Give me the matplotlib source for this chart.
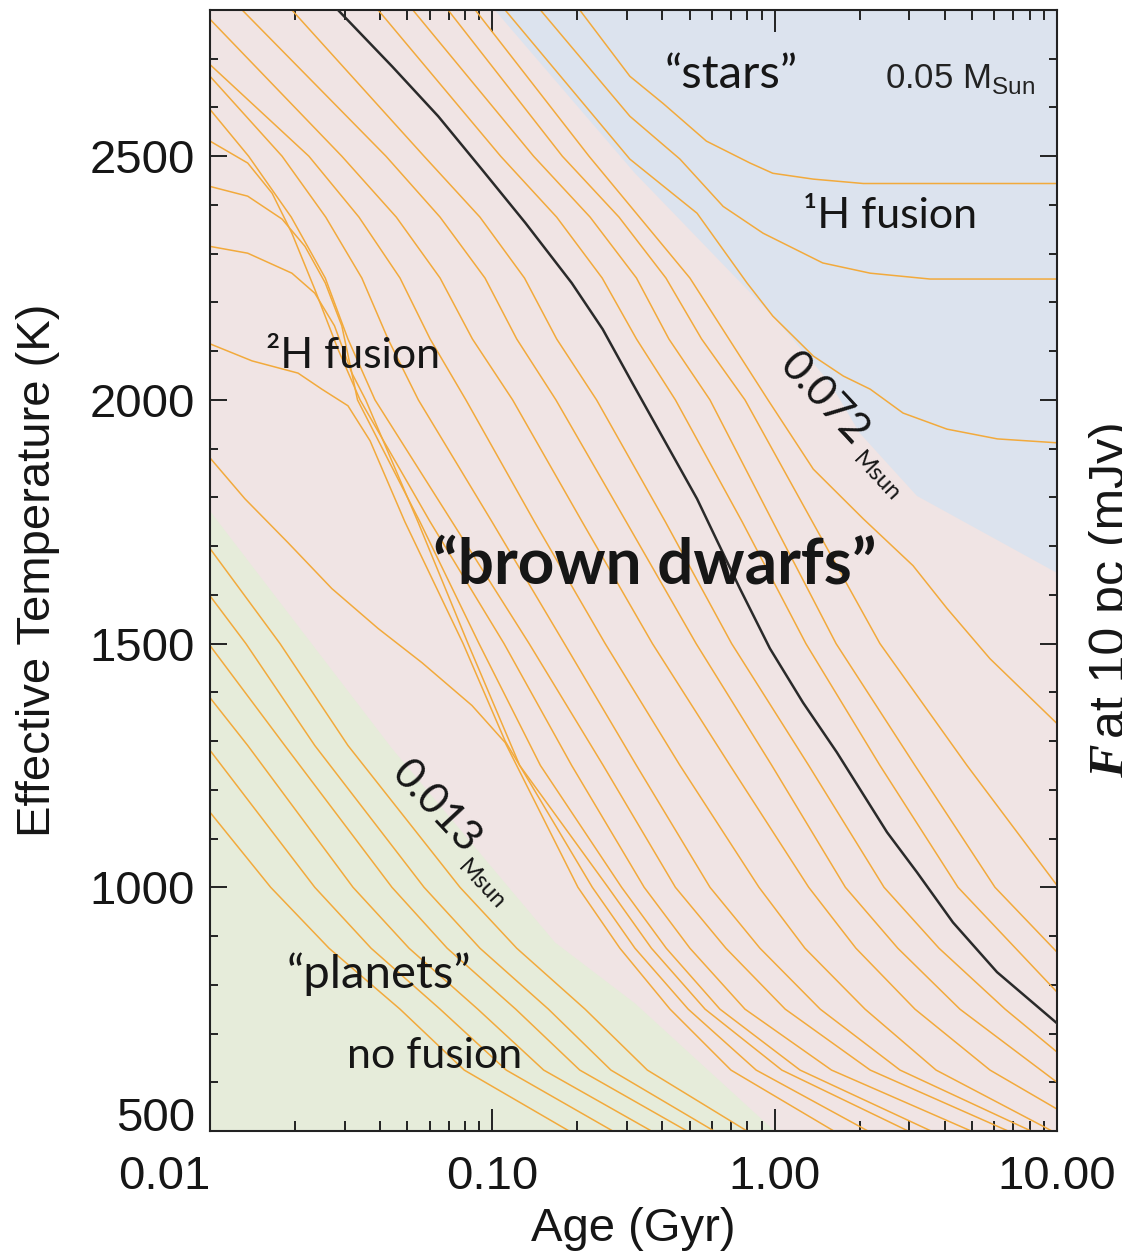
import matplotlib
matplotlib.use("Agg")
import matplotlib.pyplot as plt
import matplotlib.ticker as ticker

plt.rcParams['font.family'] = ['Liberation Sans', 'DejaVu Sans']
plt.rcParams['mathtext.fontset'] = 'custom'
plt.rcParams['mathtext.rm'] = 'Liberation Sans'

# ---- evolutionary tracks: age (Gyr) vs effective temperature (K) ----
# hydrogen-burning stars
age_s1 = [0.204, 0.307, 0.403, 0.573, 0.818, 0.985, 1.37, 2.06, 10.0]
teff_s1 = [2800, 2664, 2608, 2531, 2486, 2465, 2453, 2444, 2444]
age_s2 = [0.148, 0.307, 0.462, 0.657, 0.910, 1.48, 2.18, 3.55, 10.0]
teff_s2 = [2800, 2582, 2494, 2397, 2342, 2281, 2260, 2248, 2248]
age_s3 = [0.111, 0.307, 0.531, 0.798, 0.985, 1.37, 1.75, 2.18, 2.85, 4.08, 6.15, 10.0]
teff_s3 = [2800, 2494, 2383, 2240, 2172, 2090, 2049, 2022, 1973, 1940, 1920, 1912]

# brown dwarfs, heaviest first
age_r4 = [0.087, 0.220, 0.501, 0.947, 1.37, 2.06, 3.09, 4.08, 5.79, 10.0]
teff_r4 = [2800, 2500, 2250, 2000, 1858, 1756, 1660, 1572, 1469, 1336]
age_r3 = [0.0697, 0.177, 0.281, 0.412, 0.551, 0.785, 1.36, 2.36, 4.80, 10.0]
teff_r3 = [2800, 2500, 2375, 2250, 2125, 2000, 1750, 1500, 1250, 1004]
age_r2 = [0.0523, 0.140, 0.222, 0.324, 0.422, 0.590, 0.985, 1.65, 3.14, 6.03, 10.0]
teff_r2 = [2800, 2500, 2375, 2250, 2125, 2000, 1750, 1500, 1250, 1000, 867]
age_r1 = [0.0394, 0.107, 0.169, 0.245, 0.324, 0.445, 0.767, 1.29, 2.36, 4.46, 10.0]
teff_r1 = [2800, 2500, 2375, 2250, 2125, 2000, 1750, 1500, 1250, 1000, 785]

# highlighted track
age_black = [0.0284, 0.0442, 0.0643, 0.0918, 0.131, 0.191, 0.246, 0.313, 0.531, 0.753,
             0.962, 1.26, 1.66, 2.50, 3.19, 4.28, 6.13, 10.0]
teff_black = [2800, 2684, 2582, 2473, 2363, 2240, 2145, 2035, 1797, 1613,
              1490, 1379, 1277, 1113, 1031, 928, 826, 721]

age_l1 = [0.0195, 0.0573, 0.0904, 0.130, 0.169, 0.234, 0.410, 0.704, 1.32, 2.44,
          3.82, 6.55, 10.0]
teff_l1 = [2800, 2500, 2375, 2250, 2125, 2000, 1750, 1500, 1250, 1000, 875, 750, 662]
age_l2 = [0.0130, 0.0420, 0.0653, 0.0942, 0.122, 0.168, 0.298, 0.527, 0.977, 1.78,
          2.73, 4.53, 10.0]
teff_l2 = [2800, 2500, 2375, 2250, 2125, 2000, 1750, 1500, 1250, 1000, 875, 750, 600]
age_l3 = [0.0100, 0.0293, 0.0457, 0.0653, 0.0850, 0.118, 0.208, 0.369, 0.695, 1.32,
          1.94, 3.14, 5.79, 10.0]
teff_l3 = [2781, 2500, 2375, 2250, 2125, 2000, 1750, 1500, 1250, 1000, 875, 750, 625, 545]
age_l4 = [0.0100, 0.0224, 0.0337, 0.0471, 0.0602, 0.0806, 0.141, 0.251, 0.462, 0.880,
          1.28, 2.09, 3.73, 9.6]
teff_l4 = [2688, 2500, 2375, 2250, 2125, 2000, 1750, 1500, 1250, 1000, 875, 750, 625, 500]
age_l5 = [0.0100, 0.0180, 0.0257, 0.0345, 0.0427, 0.0547, 0.0997, 0.180, 0.324, 0.590,
          0.887, 1.45, 2.78, 8.09]
teff_l5 = [2664, 2500, 2375, 2250, 2125, 2000, 1750, 1500, 1250, 1000, 875, 750, 625, 500]
age_l6 = [0.0100, 0.0137, 0.0194, 0.0256, 0.0308, 0.0384, 0.0720, 0.135, 0.247, 0.445,
          0.672, 1.09, 2.18, 6.71]
teff_l6 = [2596, 2500, 2375, 2250, 2125, 2000, 1750, 1500, 1250, 1000, 875, 750, 625, 500]

# deuterium-burning tracks (they cross each other)
age_l7 = [0.0100, 0.0136, 0.0166, 0.0195, 0.0235, 0.0284, 0.0340, 0.0602, 0.110,
          0.191, 0.345, 0.501, 0.785, 1.59, 4.96]
teff_l7 = [2531, 2486, 2424, 2342, 2227, 2104, 2000, 1750, 1500,
           1250, 1000, 875, 750, 625, 500]
age_l8 = [0.0100, 0.0136, 0.0180, 0.0217, 0.0256, 0.0293, 0.0333, 0.0554, 0.0897,
          0.148, 0.287, 0.413, 0.640, 1.23, 3.58]
teff_l8 = [2438, 2418, 2371, 2315, 2240, 2152, 2000, 1750, 1500,
           1250, 1000, 875, 750, 625, 500]
age_l9 = [0.0100, 0.0136, 0.0195, 0.0235, 0.0276, 0.0318, 0.0356, 0.0545, 0.0820,
          0.125, 0.257, 0.366, 0.567, 1.06, 2.97]
teff_l9 = [2315, 2301, 2260, 2219, 2152, 2055, 2000, 1750, 1500,
           1250, 1000, 875, 750, 625, 500]
age_l10 = [0.0100, 0.0141, 0.0205, 0.0249, 0.0308, 0.0369, 0.0490, 0.0788, 0.111,
           0.226, 0.320, 0.494, 0.86, 2.14]
teff_l10 = [2115, 2080, 2055, 2022, 1988, 1916, 1750, 1500, 1300,
            1000, 875, 750, 625, 500]
age_l11 = [0.0100, 0.0133, 0.0189, 0.0270, 0.0394, 0.0563, 0.0847, 0.111, 0.201,
           0.283, 0.426, 0.70, 1.62]
teff_l11 = [1881, 1797, 1707, 1613, 1531, 1461, 1373, 1297, 1000,
            875, 750, 625, 500]

# planetary-mass objects
age_g1 = [0.0100, 0.0177, 0.0308, 0.0768, 0.122, 0.213, 0.354, 0.798]
teff_g1 = [1695, 1500, 1291, 1000, 875, 750, 625, 500]
age_g2 = [0.0100, 0.0134, 0.0235, 0.0573, 0.0904, 0.158, 0.263, 0.610]
teff_g2 = [1598, 1500, 1291, 1000, 875, 750, 625, 500]
age_g3 = [0.0100, 0.0184, 0.0441, 0.0692, 0.121, 0.204, 0.489]
teff_g3 = [1496, 1291, 1000, 875, 750, 625, 500]
age_g4 = [0.0100, 0.0136, 0.0321, 0.0507, 0.0888, 0.152, 0.366]
teff_g4 = [1389, 1291, 1000, 875, 750, 625, 500]
age_g5 = [0.0100, 0.0235, 0.0372, 0.0653, 0.112, 0.267]
teff_g5 = [1281, 1000, 875, 750, 625, 500]
age_g6 = [0.0100, 0.0164, 0.0264, 0.0471, 0.0795, 0.187]
teff_g6 = [1154, 1000, 875, 750, 625, 500]

# shaded regimes
star_zone_age = [0.102, 0.320, 0.986, 1.57, 2.00, 3.19, 10.0, 10.0]
star_zone_teff = [2800, 2465, 2172, 2035, 1932, 1803, 1645, 2800]
planet_zone_age = [0.01, 0.0441, 0.1667, 0.320, 1.0, 0.01]
planet_zone_teff = [1772, 1285, 887, 762, 500, 500]

x_ticks = [0.01, 0.1, 1, 10]
x_ticklabels = ['0.01', '0.10', '1.00', '10.00']
y_ticks = [500, 1000, 1500, 2000, 2500]

orange = '#F2AA3C'
pink = '#F0E4E4'
blue = '#DCE3EE'
green = '#E6ECDA'
ink = '#161616'

fig = plt.figure(figsize=(11.22, 12.57), dpi=100)
ax = fig.add_axes([0.18717, 0.10024, 0.75490, 0.89181])
ax.set_facecolor(pink)

ax.fill(star_zone_age, star_zone_teff, color=blue, lw=0, zorder=0.5)
ax.fill(planet_zone_age, planet_zone_teff, color=green, lw=0, zorder=0.5)

tracks = [
    (age_s1, teff_s1), (age_s2, teff_s2), (age_s3, teff_s3),
    (age_r4, teff_r4), (age_r3, teff_r3), (age_r2, teff_r2), (age_r1, teff_r1),
    (age_l1, teff_l1), (age_l2, teff_l2), (age_l3, teff_l3), (age_l4, teff_l4),
    (age_l5, teff_l5), (age_l6, teff_l6), (age_l7, teff_l7), (age_l8, teff_l8),
    (age_l9, teff_l9), (age_l10, teff_l10), (age_l11, teff_l11),
    (age_g1, teff_g1), (age_g2, teff_g2), (age_g3, teff_g3),
    (age_g4, teff_g4), (age_g5, teff_g5), (age_g6, teff_g6),
]
for a, t in tracks:
    ax.plot(a, t, color=orange, lw=1.1, zorder=2)
ax.plot(age_black, teff_black, color='#2a2a2a', lw=1.8, zorder=3)

# axes
ax.set_xscale('log')
ax.set_xlim(0.01, 10)
ax.set_ylim(500, 2800)
ax.set_xticks(x_ticks)
ax.set_xticklabels(x_ticklabels)
ax.xaxis.set_minor_locator(ticker.LogLocator(base=10, subs=range(2, 10)))
ax.xaxis.set_minor_formatter(ticker.NullFormatter())
ax.set_yticks(y_ticks)
ax.set_yticklabels([str(v) for v in y_ticks])
ax.yaxis.set_minor_locator(ticker.MultipleLocator(100))

ax.tick_params(axis='both', which='both', direction='in', top=True, right=True,
               width=1.4, color='#222222', labelsize=34, labelcolor=ink)
ax.tick_params(axis='x', which='major', length=16, pad=17)
ax.tick_params(axis='x', which='minor', length=7)
ax.tick_params(axis='y', which='major', length=12, pad=11)
ax.tick_params(axis='y', which='minor', length=6)
for sp in ax.spines.values():
    sp.set_linewidth(1.5)
    sp.set_color('#222222')

# keep the corner labels apart
ax.get_xticklabels()[0].set_ha('right')
ax.get_yticklabels()[0].set_va('baseline')

ax.set_xlabel('Age (Gyr)', fontsize=34, color=ink)
ax.set_ylabel('Effective Temperature (K)', fontsize=34, color=ink)
ax.xaxis.set_label_coords(0.5, -0.068)
ax.yaxis.set_label_coords(-0.177, 0.5)

# region annotations
lato = ['Lato', 'DejaVu Sans']
ax.text(0.615, 0.930, '\u201cstars\u201d', transform=ax.transAxes, fontsize=34,
        family=lato, ha='center', va='baseline', color=ink, zorder=5)
ax.text(0.797, 0.930, r'0.05 M$_{\mathrm{Sun}}$', transform=ax.transAxes,
        fontsize=25, ha='left', va='baseline', color='#222222', zorder=5)
ax.text(0.803, 0.8055, '\u00b9H fusion', transform=ax.transAxes, fontsize=31,
        family=lato, ha='center', va='baseline', color=ink, zorder=5)
ax.text(0.169, 0.6806, '\u00b2H fusion', transform=ax.transAxes, fontsize=31,
        family=lato, ha='center', va='baseline', color=ink, zorder=5)
ax.text(0.525, 0.4888, '\u201cbrown dwarfs\u201d', transform=ax.transAxes,
        fontsize=46, fontweight='bold', family=lato, ha='center', va='baseline',
        color=ink, zorder=5)
ax.text(0.1995, 0.1276, '\u201cplanets\u201d', transform=ax.transAxes, fontsize=34,
        family=lato, ha='center', va='baseline', color=ink, zorder=5)
ax.text(0.2656, 0.0562, 'no fusion', transform=ax.transAxes, fontsize=31,
        family=lato, ha='center', va='baseline', color=ink, zorder=5)

# mass limits written along the boundaries
for (fx, fy, s, size) in [(0.6706, 0.6815, '0.072', 31), (0.758, 0.5986, 'Msun', 17),
                          (0.2125, 0.3176, '0.013', 31), (0.2916, 0.2346, 'Msun', 17)]:
    ax.text(fx, fy, s, transform=ax.transAxes, fontsize=size, family=lato,
            rotation=-47, rotation_mode='anchor', ha='left', va='baseline',
            color=ink, zorder=5)

# flux axis label of the neighbouring panel, cut by the figure edge
fig.text(1089 / 1122, 1 - 778 / 1257, 'F', fontsize=36, fontweight='bold',
         fontstyle='italic', family=['Liberation Serif', 'DejaVu Serif'],
         rotation=90, ha='left', va='bottom', color=ink)
fig.text(1089 / 1122, 1 - 738 / 1257, 'at 10 pc (mJy)', fontsize=36,
         rotation=90, ha='left', va='bottom', color=ink)

fig.savefig('out.png', dpi=100)
